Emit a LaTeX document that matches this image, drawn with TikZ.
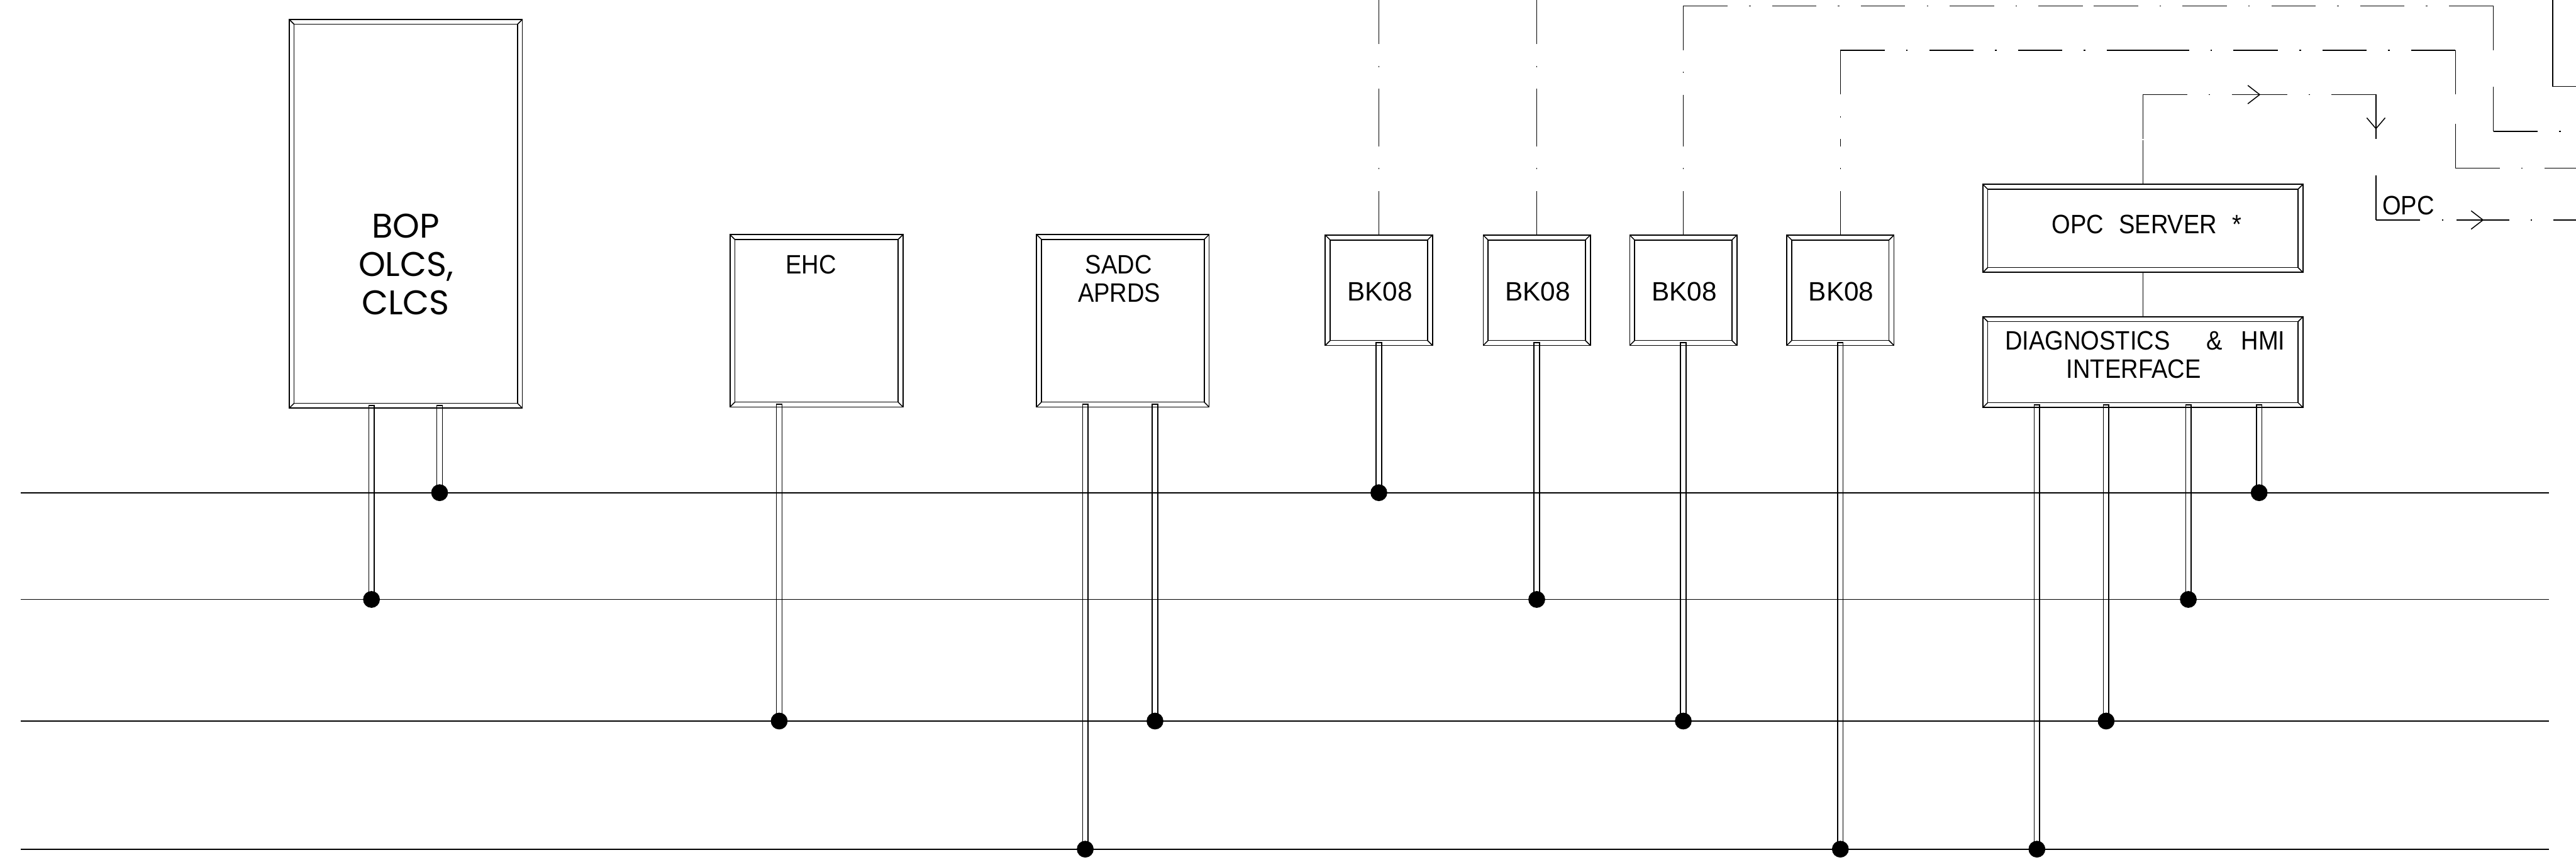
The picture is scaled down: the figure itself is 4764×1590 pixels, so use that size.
\documentclass[tikz,border=0pt]{standalone}
\usepackage{fontspec}
\setmainfont[FakeStretch=0.9]{Liberation Sans}
\newfontfamily\bkfont{Liberation Sans}
\newfontfamily\bopfont{Poppins}
\usetikzlibrary{calc}
\tikzset{
  thinl/.style={line width=0.5pt},
  cadframe/.style={draw, line width=0.6pt, rectangle, inner sep=0pt, outer sep=0pt},
  busline/.style={line width=0.6pt},
  tapdot/.style={circle, fill=black, draw=black, line width=0.3pt, minimum size=0.3cm, inner sep=0pt},
  ddline/.style={line width=0.5pt, dash pattern=on 23.3pt off 11.3pt on 0.8pt off 11.3pt},
  cadtext/.style={font=\fontsize{14}{16}\selectfont, inner sep=0pt, anchor=base},
  bktext/.style={font=\bkfont\fontsize{14}{16}\selectfont, inner sep=0pt, anchor=base},
  boptext/.style={font=\bopfont\fontsize{18}{20}\selectfont, inner sep=0pt, anchor=base},
  arrowv/.style={line width=0.5pt},
}
\newcommand{\cadbox}[5]{%
  \node[cadframe, minimum width=#4*0.01cm, minimum height=#5*0.01cm] (#1) at (#2,#3) {};
  \draw[thinl] ([shift={(9,9)}]#1.north west) rectangle ([shift={(-9,-9)}]#1.south east);
  \draw[thinl] (#1.north west) -- ++(9,9) (#1.north east) -- ++(-9,9)
               (#1.south west) -- ++(9,-9) (#1.south east) -- ++(-9,-9);
}
\newcommand{\stub}[2]{%
  \draw[thinl] ([xshift=-1.42pt,yshift=1.42pt]#2 |- #1.south) rectangle ([xshift=1.42pt]#2);
}
\newcommand{\ddseg}[2]{%
  \draw[ddline] (#1) -- ($(#1)!0.5!(#2)$);
  \draw[ddline] (#2) -- ($(#1)!0.5!(#2)$);
}
\begin{document}
\begin{tikzpicture}[x=0.01cm, y=-0.01cm]
\useasboundingbox (0,0) rectangle (4764,1590);

% ---- boxes
\cadbox{bop}{750.5}{395.5}{431}{719}
\cadbox{ehc}{1510}{593.5}{320}{319}
\cadbox{sadc}{2076.5}{593.5}{319}{319}
\cadbox{bka}{2550}{537}{198}{204}
\cadbox{bkb}{2842}{537}{198}{204}
\cadbox{bkc}{3113}{537}{198}{204}
\cadbox{bkd}{3403.5}{537}{198}{204}
\cadbox{opc}{3963}{422.5}{592}{163}
\cadbox{diag}{3963}{670}{592}{168}

% ---- texts
\node[boptext] (bopA) at (750,440) {BOP};
\node[boptext] (bopB) at (751,511) {OLCS,};
\node[boptext] (bopC) at (750,582) {CLCS};
\node[cadtext] (ehcT) at (1500,506) {EHC};
\node[cadtext] (sadcA) at (2069,506) {SADC};
\node[cadtext] (sadcB) at (2070,559) {APRDS};
\node[bktext] (bkaT) at (2552,556) {BK08};
\node[bktext] (bkbT) at (2844,556) {BK08};
\node[bktext] (bkcT) at (3115,556) {BK08};
\node[bktext] (bkdT) at (3405,556) {BK08};
\node[cadtext] (opcT) at (3970,432) {OPC\hspace{8pt}SERVER\hspace{8pt}*};
\node[cadtext] (diagA) at (3967,647) {DIAGNOSTICS\hspace{19pt}\&\hspace{10pt}HMI};
\node[cadtext] (diagB) at (3946,700) {INTERFACE};
\node[cadtext, anchor=base west] (opcL) at (4405,397) {OPC};

% ---- bus lines
\coordinate (b1w) at (38,911.5);  \coordinate (b1e) at (4714,911.5);
\coordinate (b2w) at (38,1109);   \coordinate (b2e) at (4714,1109);
\coordinate (b3w) at (38,1334);   \coordinate (b3e) at (4714,1334);
\coordinate (b4w) at (38,1571);   \coordinate (b4e) at (4714,1571);

% ---- taps
\coordinate (t11) at (813,911.5);
\coordinate (t12) at (2550,911.5);
\coordinate (t13) at (4178,911.5);
\coordinate (t21) at (687,1109);
\coordinate (t22) at (2842,1109);
\coordinate (t23) at (4047,1109);
\coordinate (t31) at (1441,1334);
\coordinate (t32) at (2136,1334);
\coordinate (t33) at (3113,1334);
\coordinate (t34) at (3895,1334);
\coordinate (t41) at (2007,1571);
\coordinate (t42) at (3403.5,1571);
\coordinate (t43) at (3767,1571);

% ---- stubs
\stub{bop}{t11}
\stub{bop}{t21}
\stub{ehc}{t31}
\stub{sadc}{t41}
\stub{sadc}{t32}
\stub{bka}{t12}
\stub{bkb}{t22}
\stub{bkc}{t33}
\stub{bkd}{t42}
\stub{diag}{t43}
\stub{diag}{t34}
\stub{diag}{t23}
\stub{diag}{t13}

\draw[busline] (b1w) -- (b1e);
\draw[busline] (b2w) -- (b2e);
\draw[busline] (b3w) -- (b3e);
\draw[busline] (b4w) -- (b4e);

\foreach \t in {t11,t12,t13,t21,t22,t23,t31,t32,t33,t34,t41,t42,t43}
  \node[tapdot] (d\t) at (\t) {};

% ---- solid link between OPC server and diagnostics
\draw[thinl] (opc.south) -- (diag.north);

% ---- dash-dot lines
\coordinate (top1) at (2550,0);
\coordinate (top2) at (2842,0);
\coordinate (c3a) at (3113,11);   \coordinate (c3b) at (4611,11);
\coordinate (c3c) at (4611,243);  \coordinate (c3d) at (4764,243);
\coordinate (c4a) at (3403.5,93); \coordinate (c4b) at (4541,93);
\coordinate (c4c) at (4541,311);  \coordinate (c4d) at (4764,311);
\coordinate (c5a) at (4721,0);    \coordinate (c5b) at (4721,160);
\coordinate (c5c) at (4764,160);
\coordinate (o1) at (3963,175);   \coordinate (o2) at (4394,175);
\coordinate (o3) at (4394,407);   \coordinate (o4) at (4764,407);

\ddseg{bka.north}{top1}
\ddseg{bkb.north}{top2}
\ddseg{bkc.north}{c3a}
\ddseg{c3a}{c3b}
\ddseg{c3b}{c3c}
\draw[ddline] (c3c) -- (c3d);
\ddseg{bkd.north}{c4a}
\ddseg{c4a}{c4b}
\ddseg{c4b}{c4c}
\draw[ddline] (c4c) -- (c4d);
\ddseg{c5a}{c5b}
\draw[ddline] (c5b) -- (c5c);
\ddseg{opc.north}{o1}
\ddseg{o1}{o2}
\ddseg{o2}{o3}
\draw[ddline] (o3) -- (o4);

% ---- arrows on the OPC path
\draw[arrowv] (4138,175) -- (4220,175);
\draw[arrowv] (4157,158) -- (4179,175) -- (4157,192);
\draw[arrowv] (4394,175) -- (4394,252);
\draw[arrowv] (4377,218) -- (4394,238) -- (4411,218);
\draw[arrowv] (4543,407) -- (4625,407);
\draw[arrowv] (4570,390) -- (4592,407) -- (4570,424);
\end{tikzpicture}
\end{document}
